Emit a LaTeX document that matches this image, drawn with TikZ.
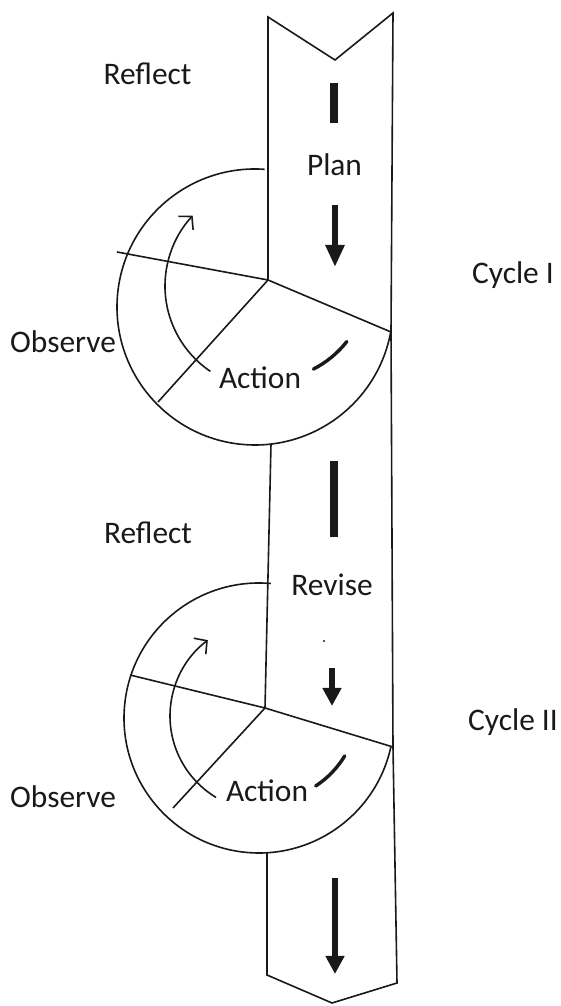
\documentclass[tikz,border=0pt]{standalone}
\usepackage{fontspec}
\setmainfont{Carlito}
\usepackage{xcolor}
\usepackage{tikz}
\usetikzlibrary{arrows.meta,positioning}
\definecolor{ink}{RGB}{25,25,25}

\begin{document}
\begin{tikzpicture}[x=0.5pt,y=0.5pt,
  outline/.style={draw=ink, line width=0.8pt},
  word/.style={font=\fontsize{15.7}{18}\selectfont, text=ink, inner sep=0pt, anchor=base},
  bar/.style={draw=ink, line width=4pt},
  bigarrow/.style={draw=ink, line width=3pt, -{Triangle[length=9pt,width=9pt]}},
  cyclearrow/.style={draw=ink, line width=0.8pt, -{Straight Barb[length=4.5pt,width=10pt]}},
  actiontick/.style={draw=ink, line width=1.7pt, line cap=round}]
\useasboundingbox (0,0) rectangle (561,1006);

\coordinate (tl) at (268,989);
\coordinate (notch) at (335,946);
\coordinate (tr) at (393,993);
\coordinate (v1) at (268,726);
\coordinate (p1) at (391,674);
\coordinate (c1) at (255,699);
\coordinate (w1) at (117,754);
\coordinate (s1) at (158,604);
\coordinate (m1) at (271,562);
\coordinate (a1) at (268,720);
\coordinate (v2) at (265,298);
\coordinate (p2) at (393,259);
\coordinate (c2) at (259,288);
\coordinate (w2) at (130,331);
\coordinate (s2) at (173,198);
\coordinate (a2) at (265,290);
\coordinate (b2) at (267,153);
\coordinate (bl) at (267,31);
\coordinate (bnotch) at (332,3);
\coordinate (br) at (397,23);

\draw[outline] (v1) -- (tl) -- (notch) -- (tr) -- (p1) -- (p2) -- (br) -- (bnotch) -- (bl) -- (b2);
\draw[outline] (m1) -- (v2);

\draw[outline] (c1) ++(86:138) arc[start angle=86, end angle=349.5, radius=138];
\draw[outline] (w1) -- (v1) -- (p1);
\draw[outline] (v1) -- (s1);
\draw[cyclearrow] (a1) ++(236:103) arc[start angle=236, end angle=137, radius=103];
\draw[actiontick] (v1) ++(-63:100) arc[start angle=-63, end angle=-38, radius=100];

\draw[outline] (c2) ++(85:135) arc[start angle=85, end angle=348, radius=135];
\draw[outline] (w2) -- (v2) -- (p2);
\draw[outline] (v2) -- (s2);
\draw[cyclearrow] (a2) ++(239:95) arc[start angle=239, end angle=127, radius=95];
\draw[actiontick] (v2) ++(-57:93) arc[start angle=-57, end angle=-31, radius=93];

\draw[bar] (334,923) -- (334,883);
\draw[bar] (334,545) -- (334,469);
\draw[bigarrow, -{Triangle[length=11pt,width=9pt]}] (335,801) -- (335,739);
\draw[bigarrow] (332,338) -- (332,300);
\draw[bigarrow] (335,128) -- (335,32);
\fill[ink] (324,365) circle[radius=1.2];

\node[word] (reflect1) at (147.5,921) {Reflect};
\node[word] (plan) at (334.5,830) {Plan};
\node[word] (cycle1) at (513,722) {Cycle I};
\node[word] (observe1) at (63,653.5) {Observe};
\node[word] (action1) at (260,617) {Action};
\node[word] (reflect2) at (148,462) {Reflect};
\node[word] (revise) at (332,410.5) {Revise};
\node[word] (cycle2) at (513,275) {Cycle II};
\node[word] (observe2) at (63,198) {Observe};
\node[word] (action2) at (267,204) {Action};
\end{tikzpicture}
\end{document}
